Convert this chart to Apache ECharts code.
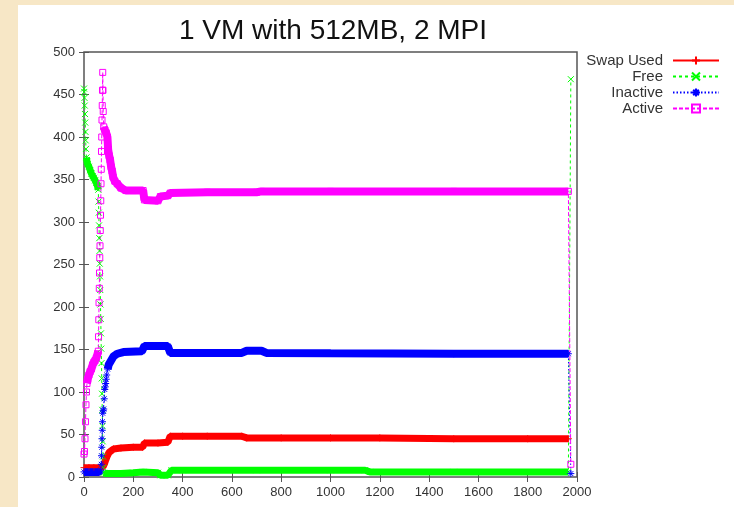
<!DOCTYPE html>
<html>
<head>
<meta charset="utf-8">
<script src="https://cdn.jsdelivr.net/npm/echarts@6/dist/echarts.min.js"></script>
<style>
html,body{margin:0;padding:0;width:734px;height:507px;overflow:hidden;background:#f7e7c6;}
#chart{position:absolute;left:18px;top:5px;width:716px;height:502px;background:#ffffff;}
</style>
</head>
<body>
<div id="chart"></div>
<script>
// ---------- data ----------
const chartTitle = '1 VM with 512MB, 2 MPI';
const seriesNames = ['Swap Used', 'Free', 'Inactive', 'Active'];
const xTickValues = [0, 200, 400, 600, 800, 1000, 1200, 1400, 1600, 1800, 2000];
const yTickValues = [0, 50, 100, 150, 200, 250, 300, 350, 400, 450, 500];

const swapTime  = [0, 20, 40, 60, 77, 82, 88, 95, 102, 110, 120, 150, 200, 238, 245, 300, 340, 350, 400, 500, 640, 660, 800, 1000, 1200, 1500, 1800, 1965];
const swapValue = [11, 11, 11, 11, 12, 15, 20, 25, 29, 31, 33, 34, 35, 35, 40, 40, 41, 48, 48, 48, 48, 46, 46, 46, 46, 45, 45, 45];

const freeTime  = [0, 1, 2, 3, 4, 5, 6, 7, 8, 10, 12, 15, 20, 25, 30, 35, 40, 45, 50, 55, 58, 59, 60, 61, 62, 63, 64, 65, 66, 67, 68, 69, 70, 71, 72, 73, 74, 75, 76, 77, 78, 80, 90, 150, 200, 240, 300, 310, 340, 355, 400, 700, 1000, 1140, 1160, 1500, 1965, 1975];
const freeValue = [457, 453, 446, 437, 427, 417, 406, 396, 386, 376, 371, 368, 365, 361, 357, 354, 352, 349, 346, 342, 338, 324, 311, 296, 281, 266, 251, 236, 220, 203, 186, 169, 151, 134, 116, 98, 79, 60, 42, 24, 11, 5, 4, 4, 5, 6, 5, 2, 2, 8, 8, 8, 8, 8, 6, 6, 6, 468];

const inactiveTime  = [0, 20, 40, 60, 68, 70, 71, 72, 73, 74, 75, 76, 78, 80, 82, 84, 86, 88, 90, 92, 96, 100, 110, 120, 135, 160, 235, 245, 340, 350, 640, 660, 720, 740, 1000, 1500, 1965, 1975];
const inactiveValue = [6, 6, 6, 6, 8, 15, 25, 35, 45, 55, 65, 75, 78, 80, 92, 103, 106, 110, 115, 120, 127, 132, 137, 142, 145, 147, 148, 154, 154, 146, 146, 148.5, 148.5, 146, 145.5, 145, 145, 4];

const activeTime  = [0, 2, 4, 6, 8, 10, 12, 15, 20, 25, 30, 35, 40, 45, 50, 55, 58, 59, 60, 61, 62, 63, 64, 65, 66, 67, 68, 69, 70, 71, 72, 73, 74, 75, 76, 77, 78, 80, 85, 90, 95, 98, 102, 106, 110, 114, 118, 125, 135, 150, 170, 200, 240, 245, 300, 310, 340, 350, 500, 700, 720, 1000, 1500, 1965, 1975];
const activeValue = [27, 30, 45, 65, 85, 100, 110, 115, 120, 124, 127, 132, 135, 137, 140, 145, 148, 165, 185, 205, 222, 240, 258, 272, 290, 308, 325, 345, 362, 383, 400, 420, 437, 455, 476, 455, 430, 412, 408, 405, 400, 385, 378, 373, 365, 360, 353, 348, 345, 340, 337, 337, 337, 326, 325, 330, 331, 334, 335, 335, 336, 336, 336, 336, 15];

// ---------- rendering config ----------
const PLUS   = 'path://M0,5L10,5M5,0L5,10';
const CROSS  = 'path://M0,0L10,10M10,0L0,10';
const STAR   = 'path://M0,5L10,5M5,0L5,10M1.5,1.5L8.5,8.5M8.5,1.5L1.5,8.5';
const SQUARE = 'path://M0,0L10,0L10,10L0,10Z';

const defs = [
  {name: seriesNames[0], t: swapTime, v: swapValue, color: '#ff0000', symbol: PLUS, size: 7, dash: 'solid', band: [[0, 1965]], bandWidth: 7},
  {name: seriesNames[1], t: freeTime, v: freeValue, color: '#00ff00', symbol: CROSS, size: 6, dash: [3, 3], band: [[10, 58], [80, 1965]], bandWidth: 7},
  {name: seriesNames[2], t: inactiveTime, v: inactiveValue, color: '#0000ff', symbol: STAR, size: 7, dash: [1.5, 2], band: [[0, 68], [96, 1965]], bandWidth: 8},
  {name: seriesNames[3], t: activeTime, v: activeValue, color: '#ff00ff', symbol: SQUARE, size: 6, dash: [4, 2], band: [[12, 58], [80, 1965]], bandWidth: 8}
];

function pairs(ts, vs) { return ts.map((t, i) => [t, vs[i]]); }
function inRange(ts, vs, lo, hi) {
  const out = [];
  ts.forEach((t, i) => { if (t >= lo && t <= hi) out.push([t, vs[i]]); });
  return out;
}

const series = [];
defs.forEach(d => {
  series.push({
    type: 'line', name: d.name, data: pairs(d.t, d.v),
    symbol: d.symbol, symbolSize: d.size, showSymbol: true, showAllSymbol: true,
    lineStyle: {color: d.color, width: 1, type: d.dash},
    itemStyle: {color: 'none', borderColor: d.color, borderWidth: 1},
    silent: true, emphasis: {disabled: true}, animation: false
  });
  d.band.forEach(r => {
    series.push({
      type: 'line', name: d.name, data: inRange(d.t, d.v, r[0], r[1]),
      symbol: 'none', showSymbol: false,
      lineStyle: {color: d.color, width: d.bandWidth, type: 'solid'},
      itemStyle: {color: d.color},
      silent: true, emphasis: {disabled: true}, animation: false
    });
  });
});

const FONT = 'Liberation Sans, Arial, sans-serif';
const axisColor = '#555';
const xMin = xTickValues[0], xMax = xTickValues[xTickValues.length - 1], xInt = xTickValues[1] - xTickValues[0];
const yMin = yTickValues[0], yMax = yTickValues[yTickValues.length - 1], yInt = yTickValues[1] - yTickValues[0];
const plainNum = v => String(v);

function xAx(pos, labels) {
  return {
    type: 'value', position: pos, min: xMin, max: xMax, interval: xInt,
    axisLine: {show: false}, splitLine: {show: false},
    axisTick: {show: true, inside: true, length: 5, lineStyle: {color: axisColor, width: 1}},
    axisLabel: {show: labels, fontSize: 13, color: '#333', fontFamily: FONT, margin: 9, formatter: plainNum}
  };
}
function yAx(pos, labels) {
  return {
    type: 'value', position: pos, min: yMin, max: yMax, interval: yInt,
    axisLine: {show: false}, splitLine: {show: false},
    axisTick: {show: true, inside: true, length: 5, lineStyle: {color: axisColor, width: 1}},
    axisLabel: {show: labels, fontSize: 13, color: '#333', fontFamily: FONT, margin: 9, formatter: plainNum}
  };
}

const chart = echarts.init(document.getElementById('chart'), null, {renderer: 'canvas'});
chart.setOption({
  backgroundColor: '#ffffff',
  animation: false,
  title: {
    text: chartTitle, left: 315, top: 12, textAlign: 'center', padding: 0,
    textStyle: {fontSize: 28, fontWeight: 'normal', color: '#111', fontFamily: FONT}
  },
  legend: {
    data: seriesNames, orient: 'vertical', align: 'right', right: 14, top: 48,
    itemWidth: 46, itemHeight: 10, itemGap: 1, padding: 0, selectedMode: false,
    textStyle: {fontSize: 15, color: '#333', fontFamily: FONT, padding: [0, 5, 0, 0]}
  },
  grid: {left: 66, right: 157, top: 47, bottom: 30, show: true, borderColor: axisColor, borderWidth: 1.5, backgroundColor: 'transparent'},
  xAxis: [xAx('bottom', true), xAx('top', false)],
  yAxis: [yAx('left', true), yAx('right', false)],
  series: series
});
</script>
</body>
</html>
